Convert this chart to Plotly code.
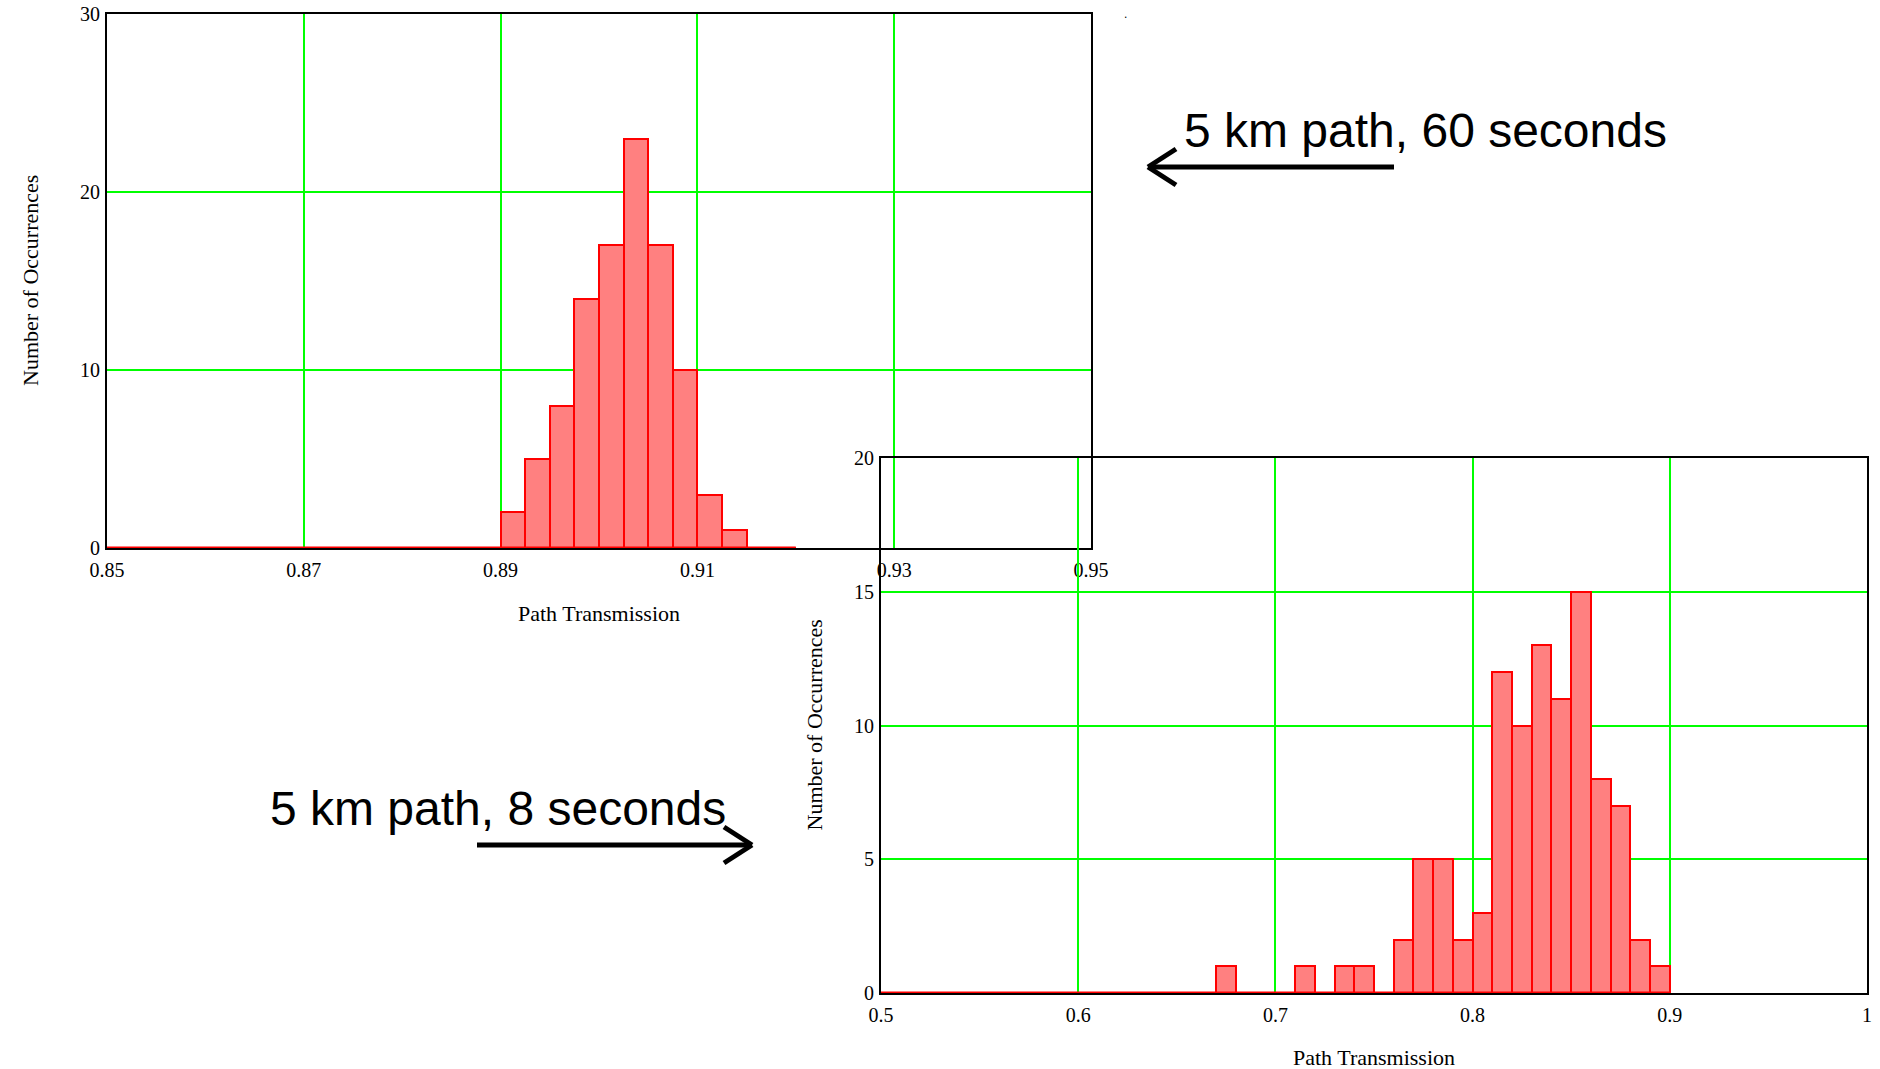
import plotly.graph_objects as go

# ---------------- data ----------------
# Top chart: 5 km path, 60 seconds (bin width 0.0025)
top_bin_left = [0.85, 0.8525, 0.855, 0.8575, 0.86, 0.8625, 0.865, 0.8675,
                0.87, 0.8725, 0.875, 0.8775, 0.88, 0.8825, 0.885, 0.8875,
                0.89, 0.8925, 0.895, 0.8975, 0.90, 0.9025, 0.905, 0.9075,
                0.91, 0.9125, 0.915, 0.9175]
top_counts = [0, 0, 0, 0, 0, 0, 0, 0,
              0, 0, 0, 0, 0, 0, 0, 0,
              2, 5, 8, 14, 17, 23, 17, 10,
              3, 1, 0, 0]
top_bin_width = 0.0025
top_xticks = [0.85, 0.87, 0.89, 0.91, 0.93, 0.95]
top_xticklabels = ["0.85", "0.87", "0.89", "0.91", "0.93", "0.95"]
top_yticks = [0, 10, 20, 30]

# Bottom chart: 5 km path, 8 seconds (bin width 0.01)
bot_bin_left = [0.50, 0.51, 0.52, 0.53, 0.54, 0.55, 0.56, 0.57, 0.58, 0.59,
                0.60, 0.61, 0.62, 0.63, 0.64, 0.65, 0.66, 0.67, 0.68, 0.69,
                0.70, 0.71, 0.72, 0.73, 0.74, 0.75, 0.76, 0.77, 0.78, 0.79,
                0.80, 0.81, 0.82, 0.83, 0.84, 0.85, 0.86, 0.87, 0.88, 0.89]
bot_counts = [0, 0, 0, 0, 0, 0, 0, 0, 0, 0,
              0, 0, 0, 0, 0, 0, 0, 1, 0, 0,
              0, 1, 0, 1, 1, 0, 2, 5, 5, 2,
              3, 12, 10, 13, 11, 15, 8, 7, 2, 1]
bot_bin_width = 0.01
bot_xticks = [0.5, 0.6, 0.7, 0.8, 0.9, 1.0]
bot_xticklabels = ["0.5", "0.6", "0.7", "0.8", "0.9", "1"]
bot_yticks = [0, 5, 10, 15, 20]

x_title = "Path Transmission"
y_title = "Number of Occurrences"
label_top = "5 km path, 60 seconds"
label_bot = "5 km path, 8 seconds"

# ---------------- layout helpers ----------------
W, H = 1880, 1069
def px(x):
    return x / W
def py(y):
    return (H - y) / H

TOP = dict(l=107, r=1091, t=14, b=548)
BOT = dict(l=881, r=1867, t=458, b=993)

FILL = "#FF8080"
EDGE = "#FF0000"
GRID = "#00FF00"
SERIF = "Liberation Serif, Times New Roman, serif"
SANS = "Liberation Sans, Arial, sans-serif"

fig = go.Figure()

# top histogram
fig.add_trace(go.Bar(x=top_bin_left, y=top_counts, width=top_bin_width, offset=0,
                     marker=dict(color=FILL, line=dict(color=EDGE, width=2)),
                     xaxis="x", yaxis="y", showlegend=False))
fig.add_trace(go.Scatter(x=[top_bin_left[0], top_bin_left[-1] + top_bin_width], y=[0, 0],
                         mode="lines", line=dict(color=EDGE, width=3),
                         xaxis="x", yaxis="y", showlegend=False, cliponaxis=False))
# bottom histogram
fig.add_trace(go.Bar(x=bot_bin_left, y=bot_counts, width=bot_bin_width, offset=0,
                     marker=dict(color=FILL, line=dict(color=EDGE, width=2)),
                     xaxis="x2", yaxis="y2", showlegend=False))
fig.add_trace(go.Scatter(x=[bot_bin_left[0], bot_bin_left[-1] + bot_bin_width], y=[0, 0],
                         mode="lines", line=dict(color=EDGE, width=3),
                         xaxis="x2", yaxis="y2", showlegend=False, cliponaxis=False))

tickfont = dict(family=SERIF, size=20, color="black")
common = dict(showgrid=True, gridcolor=GRID, gridwidth=2, showline=True, mirror=True,
              linecolor="black", linewidth=2, zeroline=False, tickfont=tickfont,
              fixedrange=True, automargin=False)

fig.update_layout(
    width=W, height=H, autosize=False,
    margin=dict(l=0, r=0, t=0, b=0, pad=0),
    paper_bgcolor="white", plot_bgcolor="rgba(0,0,0,0)",
    bargap=0, showlegend=False,
    xaxis=dict(domain=[px(TOP["l"]), px(TOP["r"])], range=[0.85, 0.95], anchor="y",
               tickmode="array", tickvals=top_xticks, ticktext=top_xticklabels,
               ticks="outside", ticklen=3, tickcolor="rgba(0,0,0,0)", **common),
    yaxis=dict(domain=[py(TOP["b"]), py(TOP["t"])], range=[0, 30], anchor="x",
               tickmode="array", tickvals=top_yticks,
               ticks="outside", ticklen=1, tickcolor="rgba(0,0,0,0)", **common),
    xaxis2=dict(domain=[px(BOT["l"]), px(BOT["r"])], range=[0.5, 1.0], anchor="y2",
                tickmode="array", tickvals=bot_xticks, ticktext=bot_xticklabels,
                ticks="outside", ticklen=3, tickcolor="rgba(0,0,0,0)", **common),
    yaxis2=dict(domain=[py(BOT["b"]), py(BOT["t"])], range=[0, 20], anchor="x2",
                tickmode="array", tickvals=bot_yticks,
                ticks="outside", ticklen=1, tickcolor="rgba(0,0,0,0)", **common),
    modebar=dict(bgcolor="rgba(0,0,0,0)", color="rgba(0,0,0,0)", activecolor="rgba(0,0,0,0)"),
)

ann = []
titlefont = dict(family=SERIF, size=22, color="black")
# axis titles
ann.append(dict(x=px((TOP["l"] + TOP["r"]) / 2), y=py(613), xref="paper", yref="paper",
                text=x_title, showarrow=False, font=titlefont, xanchor="center", yanchor="middle"))
ann.append(dict(x=px(30), y=py((TOP["t"] + TOP["b"]) / 2), xref="paper", yref="paper",
                text=y_title, textangle=-90, showarrow=False, font=titlefont,
                xanchor="center", yanchor="middle"))
ann.append(dict(x=px((BOT["l"] + BOT["r"]) / 2), y=py(1057), xref="paper", yref="paper",
                text=x_title, showarrow=False, font=titlefont, xanchor="center", yanchor="middle"))
ann.append(dict(x=px(814), y=py((BOT["t"] + BOT["b"]) / 2), xref="paper", yref="paper",
                text=y_title, textangle=-90, showarrow=False, font=titlefont,
                xanchor="center", yanchor="middle"))
# callout labels
bigfont = dict(family=SANS, size=48, color="black")
ann.append(dict(x=px(1425), y=py(130), xref="paper", yref="paper", text=label_top,
                showarrow=False, font=bigfont, xanchor="center", yanchor="middle"))
ann.append(dict(x=px(498), y=py(808), xref="paper", yref="paper", text=label_bot,
                showarrow=False, font=bigfont, xanchor="center", yanchor="middle"))
# stray dot
ann.append(dict(x=px(1125), y=py(14), xref="paper", yref="paper", text=".",
                showarrow=False, font=dict(family=SANS, size=12, color="black"),
                xanchor="center", yanchor="middle"))
fig.update_layout(annotations=ann)

# arrows (decorations, paper coordinates)
shapes = []
lw = 5
def seg(x0, y0, x1, y1):
    shapes.append(dict(type="line", xref="paper", yref="paper",
                       x0=px(x0), y0=py(y0), x1=px(x1), y1=py(y1),
                       line=dict(color="black", width=lw)))
# arrow 1 pointing left
seg(1394, 167, 1150, 167)
seg(1148, 167, 1176, 149)
seg(1148, 167, 1176, 185)
# arrow 2 pointing right
seg(477, 845, 750, 845)
seg(752, 845, 724, 827)
seg(752, 845, 724, 863)
fig.update_layout(shapes=shapes)

fig.write_html("out.html", config={"displayModeBar": False},
               post_script="document.body.style.margin='0';")
